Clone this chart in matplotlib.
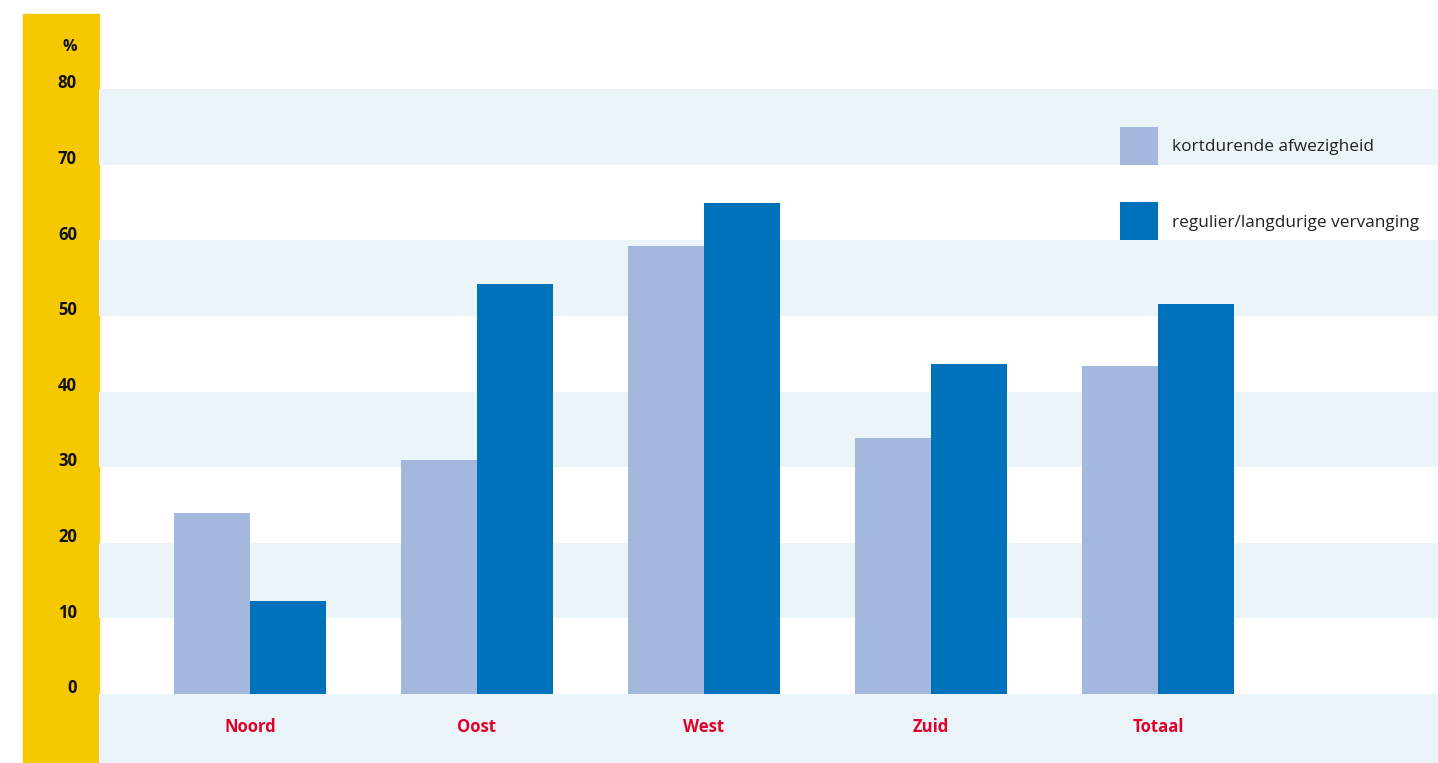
import matplotlib
matplotlib.use("Agg")
import matplotlib.pyplot as plt
from matplotlib.patches import Rectangle
import numpy as np

categories = ["Noord", "Oost", "West", "Zuid", "Totaal"]
kortdurend = [23.9, 30.9, 59.2, 33.9, 43.4]
regulier = [12.3, 54.2, 64.9, 43.6, 51.6]
series_labels = ["kortdurende afwezigheid", "regulier/langdurige vervanging"]
yticks = [0, 10, 20, 30, 40, 50, 60, 70, 80]

c_light = "#A4B8DD"
c_dark = "#0072BB"
c_band = "#EBF4F8"
c_yellow = "#F5C800"
c_red = "#E0002A"

W, H = 1438, 763
plt.rcParams['font.family'] = ['Open Sans', 'DejaVu Sans']
fig = plt.figure(figsize=(W / 100, H / 100), dpi=100)

# yellow strip
fig.patches.append(Rectangle((23 / W, 0), 76 / W, (H - 14) / H,
                             transform=fig.transFigure, color=c_yellow, zorder=-5))

ax = fig.add_axes([99 / W, 0, 1 - 99 / W, 1])
ax.set_zorder(1)
ax.set_xlim(-0.665, 5.233)
ax.set_ylim(-9.12, 91.77)
ax.axis("off")

for lo in [-10, 10, 30, 50, 70]:
    ax.axhspan(lo, lo + 10, color=c_band, zorder=0, lw=0)

x = np.arange(len(categories))
bw = 0.335
ax.bar(x - bw / 2, kortdurend, width=bw, color=c_light, zorder=2, lw=0)
ax.bar(x + bw / 2, regulier, width=bw, color=c_dark, zorder=2, lw=0)

for xi, c in zip(x, categories):
    ax.text(xi, -4.3, c, ha="center", va="center", color=c_red,
            fontsize=12, fontweight="bold")

ytr = ax.get_yaxis_transform()
xl = (77 - 99) / (W - 99)
for t in yticks:
    ax.text(xl, t + 0.75, str(t), transform=ytr, ha="right", va="center",
            fontsize=12, fontweight="bold", color="#111111", clip_on=False)
ax.text(xl, 85.6, "%", transform=ytr, ha="right", va="center",
        fontsize=11.5, fontweight="bold", color="#111111", clip_on=False)

# legend
lx = (1120 - 99) / (W - 99)
lw_ = 38 / (W - 99)
tx = (1172 - 99) / (W - 99)
for (lo, col, lab) in [(70, c_light, series_labels[0]), (60, c_dark, series_labels[1])]:
    ax.add_patch(Rectangle((lx, lo), lw_, 5, transform=ytr, color=col, zorder=3, lw=0))
    ax.text(tx, lo + 2.3, lab, transform=ytr, ha="left", va="center",
            fontsize=12.4, color="#222222")

fig.savefig("out.png", dpi=100)
